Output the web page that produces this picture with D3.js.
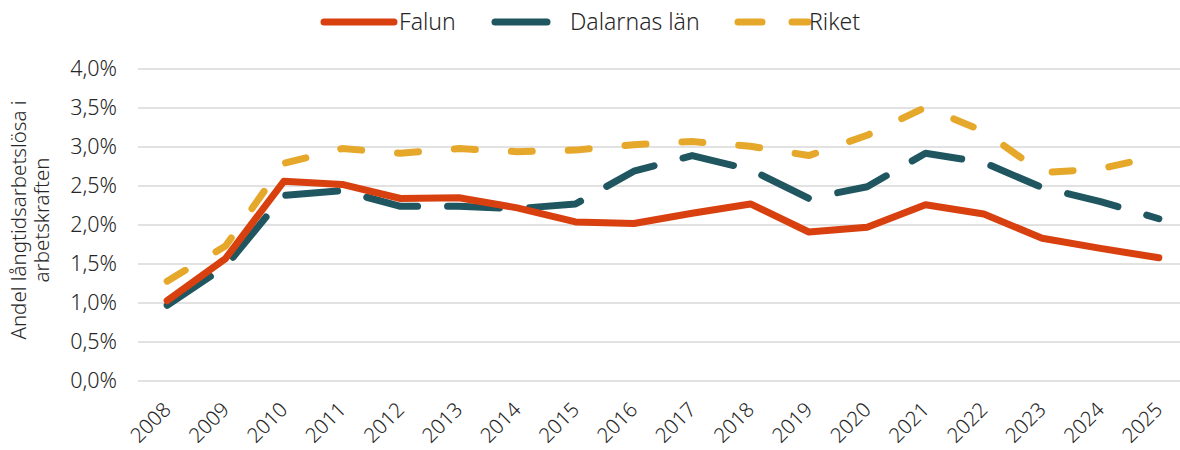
<!DOCTYPE html>
<html>
<head>
<meta charset="utf-8">
<script src="https://cdn.jsdelivr.net/npm/d3@7"></script>
<style>
  html, body { margin: 0; padding: 0; background: #fff; }
  svg { display: block; font-family: "Noto Sans", "Open Sans", sans-serif; font-weight: 300; }
</style>
</head>
<body>
<svg id="chart" width="1180" height="450"></svg>
<script>
// Långtidsarbetslösa som andel av arbetskraften (%)
const years = ["2008","2009","2010","2011","2012","2013","2014","2015","2016","2017","2018","2019","2020","2021","2022","2023","2024","2025"];
const falun    = [1.03, 1.57, 2.56, 2.52, 2.34, 2.35, 2.22, 2.04, 2.02, 2.15, 2.27, 1.91, 1.97, 2.26, 2.14, 1.83, 1.70, 1.58];
const dalarna  = [0.97, 1.47, 2.38, 2.44, 2.24, 2.24, 2.21, 2.27, 2.69, 2.89, 2.71, 2.34, 2.49, 2.92, 2.80, 2.48, 2.30, 2.08];
const riket    = [1.28, 1.73, 2.79, 2.98, 2.92, 2.98, 2.94, 2.96, 3.03, 3.07, 3.01, 2.89, 3.15, 3.51, 3.20, 2.67, 2.72, 2.89];
const yTicks   = [0, 0.5, 1, 1.5, 2, 2.5, 3, 3.5, 4];
const seriesNames = ["Falun", "Dalarnas län", "Riket"];

const series = [
  { name: seriesNames[0], values: falun,   color: "#d8410f", dash: null },
  { name: seriesNames[1], values: dalarna, color: "#1f5660", dash: "52 30" },
  { name: seriesNames[2], values: riket,   color: "#e6a82a", dash: "21 36" }
];

const FONT = "\"Noto Sans\", \"Open Sans\", sans-serif";
const svg = d3.select("#chart");
const plot = { left: 138, right: 1188, top: 69, bottom: 381 };

const x = d3.scaleBand().domain(years).range([plot.left, plot.right]).paddingInner(0).paddingOuter(0);
const y = d3.scaleLinear().domain([0, 4]).range([plot.bottom, plot.top]);
const cx = d => x(d) + x.bandwidth() / 2;

const fmt = v => d3.format(".1f")(v).replace(".", ",") + "%";

// horizontal gridlines
svg.append("g")
  .selectAll("line")
  .data(yTicks)
  .join("line")
  .attr("x1", plot.left).attr("x2", 1180)
  .attr("y1", d => y(d)).attr("y2", d => y(d))
  .attr("stroke", "#d9d9d9").attr("stroke-width", 1.5);

// y axis labels
const yAxis = d3.axisLeft(y).tickValues(yTicks).tickFormat(fmt).tickSize(0).tickPadding(0);
svg.append("g")
  .attr("transform", `translate(${plot.left - 21},0)`)
  .call(yAxis)
  .call(g => g.select(".domain").remove())
  .call(g => g.selectAll("text")
    .attr("font-family", FONT)
    .attr("font-weight", 300)
    .attr("font-size", 21.5)
    .attr("fill", "#262626"));

// x axis labels, rotated
const xAxis = d3.axisBottom(x).tickSize(0).tickPadding(0);
svg.append("g")
  .attr("transform", `translate(0,${plot.bottom})`)
  .call(xAxis)
  .call(g => g.select(".domain").remove())
  .call(g => g.selectAll("text")
    .attr("font-family", FONT)
    .attr("font-weight", 300)
    .attr("font-size", 20.5)
    .attr("fill", "#262626")
    .attr("text-anchor", "end")
    .attr("dy", 0)
    .attr("y", 0)
    .attr("transform", "translate(5,30) rotate(-45)"));

// y axis title
svg.append("text")
  .attr("transform", `translate(26,220) rotate(-90)`)
  .attr("text-anchor", "middle")
  .attr("font-size", 20.5)
  .attr("fill", "#262626")
  .selectAll("tspan")
  .data(["Andel långtidsarbetslösa i", "arbetskraften"])
  .join("tspan")
  .attr("x", 0)
  .attr("dy", (d, i) => i === 0 ? 0 : 23)
  .text(d => d);

// series lines
const line = d3.line()
  .x((d, i) => cx(years[i]))
  .y(d => y(d));

svg.append("g")
  .selectAll("path")
  .data(series.slice().reverse())
  .join("path")
  .attr("d", d => line(d.values))
  .attr("fill", "none")
  .attr("stroke", d => d.color)
  .attr("stroke-width", 7)
  .attr("stroke-linecap", "round")
  .attr("stroke-linejoin", "round")
  .attr("stroke-dasharray", d => d.dash);

// legend
const legendItems = [
  { s: series[0], x0: 324, len: 70, tx: 399 },
  { s: series[1], x0: 495, len: 70, tx: 570 },
  { s: series[2], x0: 738, len: 70, tx: 809 }
];
const lg = svg.append("g");
legendItems.forEach(it => {
  lg.append("line")
    .attr("x1", it.x0).attr("x2", it.x0 + it.len)
    .attr("y1", 22).attr("y2", 22)
    .attr("stroke", it.s.color)
    .attr("stroke-width", 7)
    .attr("stroke-linecap", "round")
    .attr("stroke-dasharray", it.s.name === "Riket" ? "24 30" : it.s.dash);
  lg.append("text")
    .attr("x", it.tx).attr("y", 30)
    .attr("font-size", 23)
    .attr("fill", "#262626")
    .text(it.s.name);
});
</script>
</body>
</html>
